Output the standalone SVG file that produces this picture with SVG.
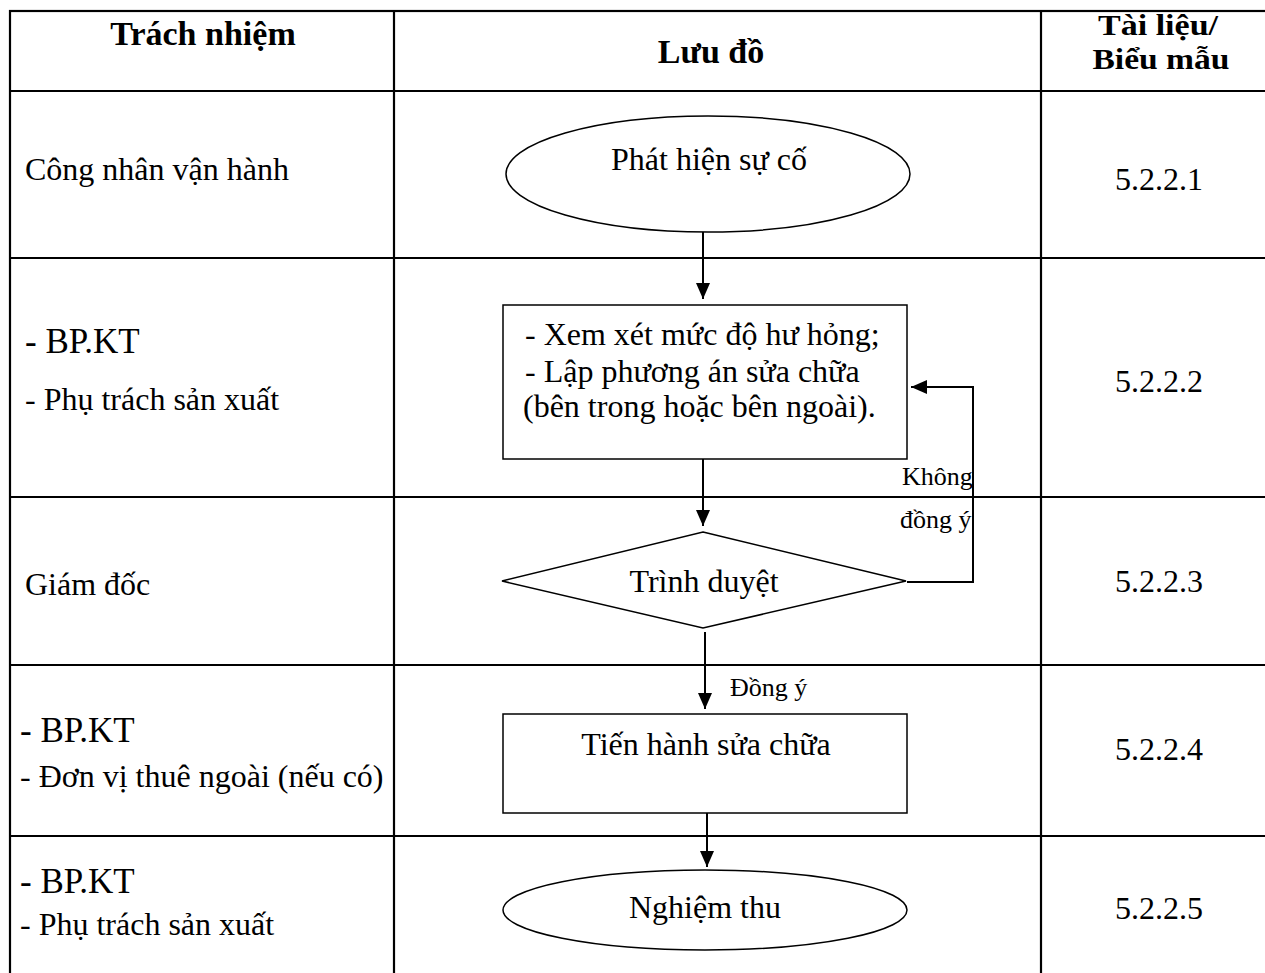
<svg xmlns="http://www.w3.org/2000/svg" width="1265" height="973" viewBox="0 0 1265 973">
  <style>
    text { font-family: "Liberation Serif", "Times New Roman", serif; fill: #000; }
    .hdr { font-size: 34px; font-weight: bold; text-anchor: middle; }
    .hdr2 { font-size: 30px; font-weight: bold; text-anchor: middle; }
    .t { font-size: 32px; }
    .big { font-size: 35px; }
    .c { text-anchor: middle; }
    .lbl { font-size: 26px; }
    .grid { stroke: #000; stroke-width: 2.2; fill: none; }
    .shape { stroke: #000; stroke-width: 1.5; fill: #fff; }
    .conn { stroke: #000; stroke-width: 2; fill: none; }
  </style>
  <defs>
    <marker id="arr" viewBox="0 0 16 14" refX="16" refY="7" markerWidth="16" markerHeight="14" markerUnits="userSpaceOnUse" orient="auto">
      <path d="M0,0 L16,7 L0,14 Z" fill="#000"/>
    </marker>
  </defs>
  <rect width="1265" height="973" fill="#fff"/>

  <g id="table">
    <rect class="grid" x="10" y="11" width="1280" height="990"/>
    <line class="grid" x1="10" y1="91" x2="1290" y2="91"/>
    <line class="grid" x1="10" y1="258" x2="1290" y2="258"/>
    <line class="grid" x1="10" y1="497" x2="1290" y2="497"/>
    <line class="grid" x1="10" y1="665" x2="1290" y2="665"/>
    <line class="grid" x1="10" y1="836" x2="1290" y2="836"/>
    <line class="grid" x1="394" y1="11" x2="394" y2="1001"/>
    <line class="grid" x1="1041" y1="11" x2="1041" y2="1001"/>
  </g>

  <g id="header">
    <text class="hdr" x="203" y="45">Trách nhiệm</text>
    <text class="hdr" x="711" y="63">Lưu đồ</text>
    <text class="hdr2" x="1158" y="35" textLength="120" lengthAdjust="spacingAndGlyphs">Tài liệu/</text>
    <text class="hdr2" x="1161" y="69" textLength="137" lengthAdjust="spacingAndGlyphs">Biểu mẫu</text>
  </g>

  <g id="responsibility">
    <text class="t" x="25" y="180">Công nhân vận hành</text>
    <text class="big" x="25" y="353">- BP.KT</text>
    <text class="t" x="25" y="410">- Phụ trách sản xuất</text>
    <text class="t" x="25" y="595">Giám đốc</text>
    <text class="big" x="20" y="742">- BP.KT</text>
    <text class="t" x="20" y="787">- Đơn vị thuê ngoài (nếu có)</text>
    <text class="big" x="20" y="893">- BP.KT</text>
    <text class="t" x="20" y="935">- Phụ trách sản xuất</text>
  </g>

  <g id="documents">
    <text class="t c" x="1159" y="190">5.2.2.1</text>
    <text class="t c" x="1159" y="392">5.2.2.2</text>
    <text class="t c" x="1159" y="592">5.2.2.3</text>
    <text class="t c" x="1159" y="760">5.2.2.4</text>
    <text class="t c" x="1159" y="919">5.2.2.5</text>
  </g>

  <g id="connectors">
    <line class="conn" x1="703" y1="232" x2="703" y2="299" marker-end="url(#arr)"/>
    <line class="conn" x1="703" y1="459" x2="703" y2="526" marker-end="url(#arr)"/>
    <polyline class="conn" points="907,582 973,582 973,387 911,387" marker-end="url(#arr)"/>
    <line class="conn" x1="705" y1="632" x2="705" y2="709" marker-end="url(#arr)"/>
    <line class="conn" x1="707" y1="813" x2="707" y2="867" marker-end="url(#arr)"/>
    <text class="lbl" x="902" y="485">Không</text>
    <text class="lbl" x="900" y="528">đồng ý</text>
    <text class="lbl" x="730" y="696">Đồng ý</text>
  </g>

  <g id="n1">
    <ellipse class="shape" cx="708" cy="174" rx="202" ry="58"/>
    <text class="t c" x="709" y="170">Phát hiện sự cố</text>
  </g>

  <g id="n2">
    <rect class="shape" x="503" y="305" width="404" height="154"/>
    <text class="t" x="525" y="345">- Xem xét mức độ hư hỏng;</text>
    <text class="t" x="525" y="382">- Lập phương án sửa chữa</text>
    <text class="t" x="523" y="417">(bên trong hoặc bên ngoài).</text>
  </g>

  <g id="n3">
    <polygon class="shape" points="703,532 906,581 703,628 502,581"/>
    <text class="t c" x="704" y="592">Trình duyệt</text>
  </g>

  <g id="n4">
    <rect class="shape" x="503" y="714" width="404" height="99"/>
    <text class="t c" x="706" y="755">Tiến hành sửa chữa</text>
  </g>

  <g id="n5">
    <ellipse class="shape" cx="705" cy="910" rx="202" ry="40"/>
    <text class="t c" x="705" y="918">Nghiệm thu</text>
  </g>
</svg>
